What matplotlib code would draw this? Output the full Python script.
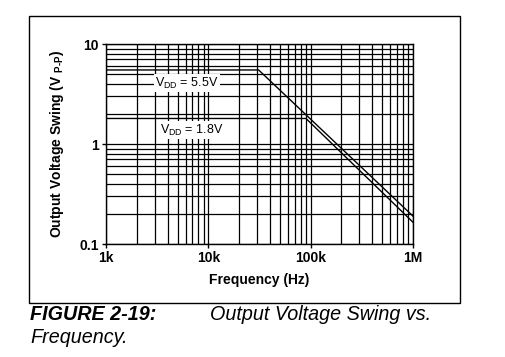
import matplotlib
matplotlib.use('Agg')
import matplotlib.pyplot as plt
from matplotlib.patches import Rectangle
from matplotlib.ticker import FixedLocator, FixedFormatter, NullFormatter

plt.rcParams['font.family'] = ['Liberation Sans', 'DejaVu Sans']
plt.rcParams['mathtext.fontset'] = 'custom'
plt.rcParams['mathtext.rm'] = 'Liberation Sans'
plt.rcParams['mathtext.bf'] = 'Liberation Sans:bold'

# curve data (Hz, V p-p)
freq_55 = [1e3, 31e3, 1e6]
swing_55 = [5.5, 5.5, 0.19]
freq_18 = [1e3, 90e3, 1e6]
swing_18 = [1.8, 1.8, 0.165]

x_ticks = [1e3, 1e4, 1e5, 1e6]
x_labels = ['1k', '10k', '100k', '1M']
y_ticks = [0.1, 1, 10]
y_labels = ['0.1', '1', '10']

fig = plt.figure(figsize=(5.05, 3.57), dpi=100)
ax = fig.add_axes([106 / 505, 1 - 244 / 357, 307 / 505, 200 / 357])

ax.set_xscale('log')
ax.set_yscale('log')
ax.set_xlim(1e3, 1e6)
ax.set_ylim(0.1, 10)

ax.plot(freq_55, swing_55, color='black', lw=1.0, zorder=4)
ax.plot(freq_18, swing_18, color='black', lw=1.0, zorder=4)

ax.xaxis.set_major_locator(FixedLocator(x_ticks))
ax.xaxis.set_major_formatter(FixedFormatter(x_labels))
ax.yaxis.set_major_locator(FixedLocator(y_ticks))
ax.yaxis.set_major_formatter(FixedFormatter(y_labels))
ax.xaxis.set_minor_formatter(NullFormatter())
ax.yaxis.set_minor_formatter(NullFormatter())
ax.grid(True, which='both', color='black', lw=0.9, zorder=1)
ax.set_axisbelow(True)
ax.tick_params(which='major', length=3, width=1, direction='out', labelsize=10, pad=2)
ax.tick_params(which='minor', length=0)
for lab in ax.get_xticklabels() + ax.get_yticklabels():
    lab.set_fontweight('bold')
for s in ax.spines.values():
    s.set_linewidth(1.0)

ax.set_xlabel('Frequency (Hz)', fontsize=10, fontweight='bold', labelpad=6)
ax.set_ylabel('Output Voltage Swing (V $_{\\mathbf{P\u2010P}}$)', fontsize=10,
              fontweight='bold', labelpad=10)

box = dict(facecolor='white', edgecolor='none', pad=1.0)
ax.text(6.2e3, 4.07, r'V$_{\mathrm{DD}}$ = 5.5V', fontsize=9, ha='center', va='center',
        bbox=box, zorder=5)
ax.text(6.8e3, 1.38, r'V$_{\mathrm{DD}}$ = 1.8V', fontsize=9, ha='center', va='center',
        bbox=box, zorder=5)

# outer frame
fig.patches.append(Rectangle((29 / 505, 1 - 303 / 357), 431 / 505, 287 / 357,
                             transform=fig.transFigure, fill=False,
                             edgecolor='black', lw=1.0))

fig.text(30 / 505, 1 - 320 / 357, 'FIGURE 2-19:', fontsize=14.2,
         fontweight='bold', style='italic', va='baseline')
fig.text(210 / 505, 1 - 320 / 357, 'Output Voltage Swing vs.', fontsize=14.2,
         style='italic', va='baseline')
fig.text(30 / 505, 1 - 343 / 357, 'Frequency.', fontsize=14.2,
         style='italic', va='baseline')

fig.savefig('out.png', dpi=100)
